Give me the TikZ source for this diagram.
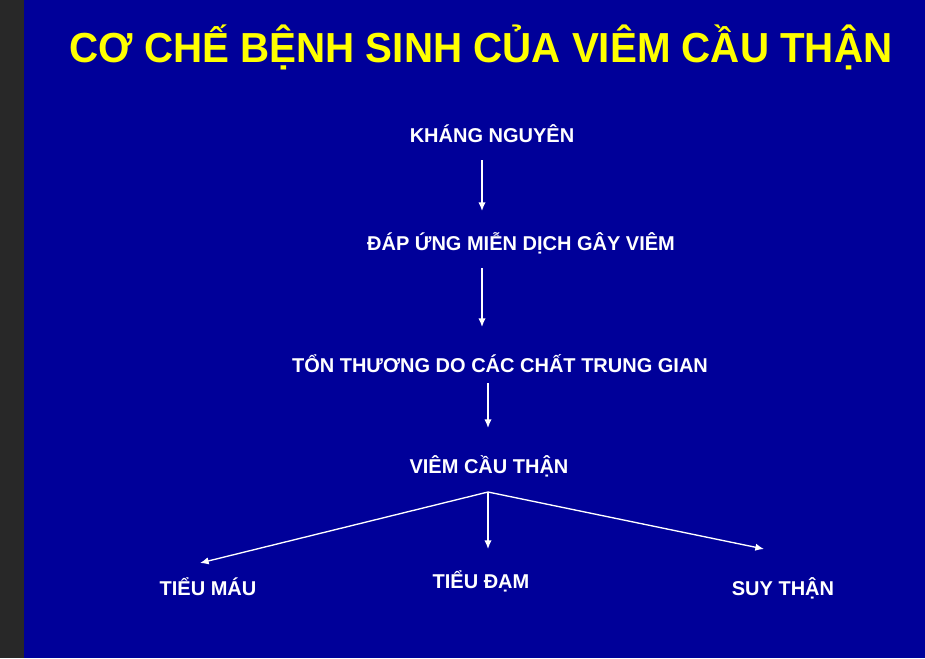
\documentclass[tikz,border=0pt]{standalone}
\usepackage{fontspec}
\setmainfont{Liberation Sans}
\newfontfamily\titlefont[FakeStretch=0.96]{Liberation Sans}
\definecolor{slideblue}{RGB}{0,0,153}
\definecolor{sidegray}{RGB}{40,40,40}
\definecolor{titleyellow}{RGB}{255,255,0}
\usetikzlibrary{positioning,arrows.meta}

\begin{document}
\begin{tikzpicture}[x=0.75pt,y=-0.75pt,
    lbl/.style={text=white,font=\bfseries\fontsize{15}{18}\selectfont,inner sep=0pt,anchor=base},
    arr/.style={draw=white,line width=1pt,-{Latex[length=6.5pt,width=5.5pt]}}]
    \fill[sidegray] (0,0) rectangle (24,658);
    \fill[slideblue] (24,0) rectangle (925,658);
    \node[text=titleyellow,font=\titlefont\bfseries\fontsize{31.5}{36}\selectfont,inner sep=0pt,anchor=base] (title) at (481,62) {CƠ CHẾ BỆNH SINH CỦA VIÊM CẦU THẬN};
    \node[lbl] (kn) at (492,142) {KHÁNG NGUYÊN};
    \node[lbl] (du) at (521,250) {ĐÁP ỨNG MIỄN DỊCH GÂY VIÊM};
    \node[lbl] (tt) at (500,372) {TỔN THƯƠNG DO CÁC CHẤT TRUNG GIAN};
    \node[lbl] (vct) at (489,473) {VIÊM CẦU THẬN};
    \node[lbl] (tm) at (208,595) {TIỂU MÁU};
    \node[lbl] (td) at (481,588) {TIỂU ĐẠM};
    \node[lbl] (st) at (783,595) {SUY THẬN};
    % arrow ends
    \coordinate (kn-out) at (482,160);
    \coordinate (du-in) at (482,211);
    \coordinate (du-out) at (482,268);
    \coordinate (tt-in) at (482,327);
    \coordinate (tt-out) at (488,383);
    \coordinate (vct-in) at (488,428);
    \coordinate (vct-out) at (488,492);
    \coordinate (tm-in) at (200,563);
    \coordinate (td-in) at (488,549);
    \coordinate (st-in) at (764,549);
    \draw[arr] (kn-out) -- (du-in);
    \draw[arr] (du-out) -- (tt-in);
    \draw[arr] (tt-out) -- (vct-in);
    \draw[arr] (vct-out) -- (tm-in);
    \draw[arr] (vct-out) -- (td-in);
    \draw[arr] (vct-out) -- (st-in);
\end{tikzpicture}
\end{document}
